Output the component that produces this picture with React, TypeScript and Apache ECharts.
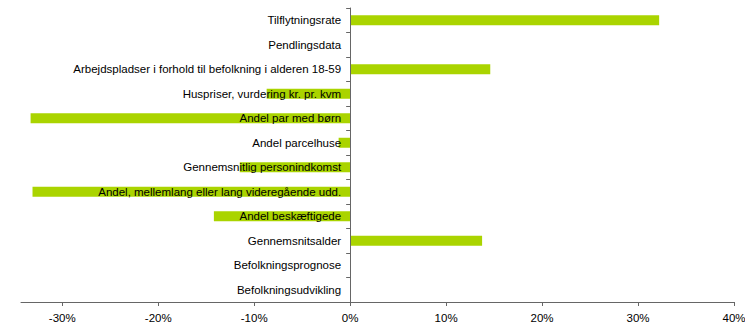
import React, { useEffect, useRef } from "react";
import * as echarts from "echarts";

const categories = [
  "Tilflytningsrate",
  "Pendlingsdata",
  "Arbejdspladser i forhold til befolkning i alderen 18-59",
  "Huspriser, vurdering kr. pr. kvm",
  "Andel par med børn",
  "Andel parcelhuse",
  "Gennemsnitlig personindkomst",
  "Andel, mellemlang eller lang videregående udd.",
  "Andel beskæftigede",
  "Gennemsnitsalder",
  "Befolkningsprognose",
  "Befolkningsudvikling",
];

const values = [0.322, 0, 0.146, -0.087, -0.333, -0.012, -0.115, -0.331, -0.142, 0.1375, 0, 0];

const tickValues = [-0.3, -0.2, -0.1, 0, 0.1, 0.2, 0.3, 0.4];

const X_MIN = -0.343;
const X_MAX = 0.4;

export default function App() {
  const ref = useRef<HTMLDivElement>(null);
  useEffect(() => {
    if (!ref.current) return;
    const chart = echarts.init(ref.current, undefined, { renderer: "svg" });
    const W = 745;
    const gridLeft = 21;
    const gridRight = 11;
    const plotW = W - gridLeft - gridRight;
    const zeroOffset = ((0 - X_MIN) / (X_MAX - X_MIN)) * plotW;
    chart.setOption({
      animation: false,
      backgroundColor: "#ffffff",
      grid: { left: gridLeft, right: gridRight, top: 8, bottom: 25, containLabel: false, outerBoundsMode: "none" },
      xAxis: {
        type: "value",
        min: X_MIN,
        max: X_MAX,
        splitLine: { show: false },
        axisLine: { show: true, lineStyle: { color: "#666666", width: 1 } },
        axisTick: {
          show: true,
          length: 4,
          customValues: tickValues,
          lineStyle: { color: "#666666" },
        },
        axisLabel: {
          customValues: tickValues,
          formatter: (v: number) => `${Math.round(v * 100)}%`,
          color: "#000",
          fontFamily: "Liberation Sans, Arial, sans-serif",
          fontSize: 11.5,
          margin: 10,
        },
      },
      yAxis: {
        type: "category",
        data: categories,
        inverse: true,
        z: 10,
        offset: -zeroOffset,
        axisLine: { show: true, onZero: false, lineStyle: { color: "#666666", width: 1 } },
        axisTick: { show: true, length: 4, lineStyle: { color: "#666666" } },
        axisLabel: {
          color: "#000",
          fontFamily: "Liberation Sans, Arial, sans-serif",
          fontSize: 11.5,
          margin: 9,
        },
        splitLine: { show: false },
      },
      series: [
        {
          type: "bar",
          data: values,
          barWidth: 10,
          itemStyle: { color: "#aad400" },
        },
      ],
    });
    return () => chart.dispose();
  }, []);
  return (
    <div
      ref={ref}
      style={{ position: "absolute", left: 0, top: 0, width: 745, height: 327 }}
    />
  );
}
